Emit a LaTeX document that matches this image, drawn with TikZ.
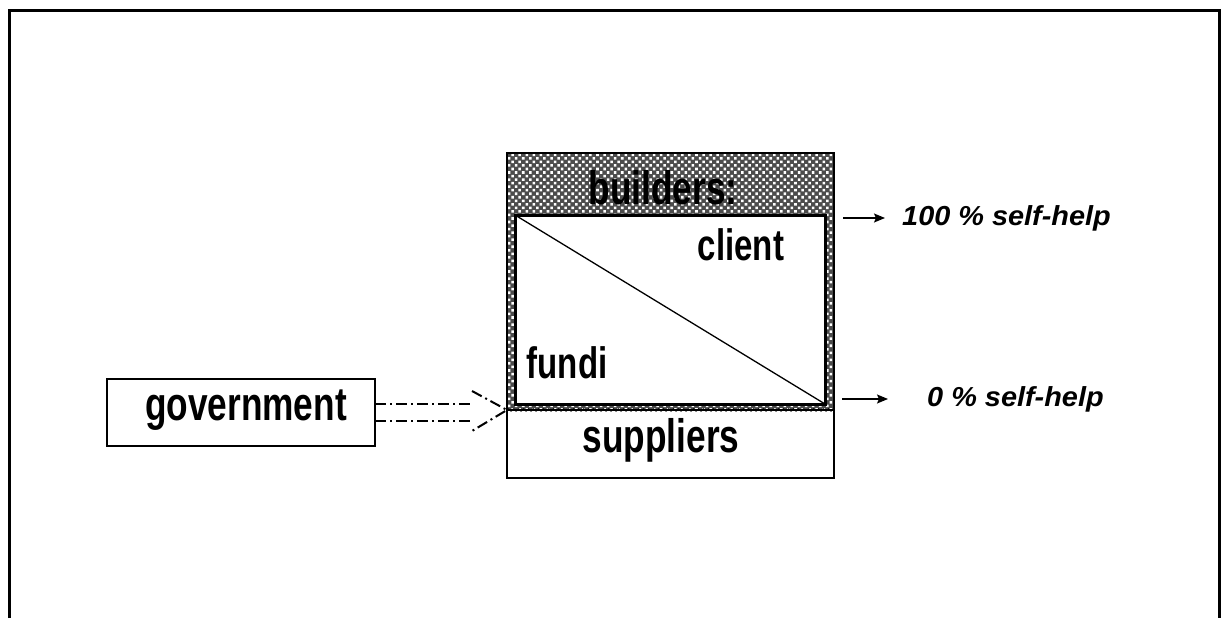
\documentclass[tikz,border=0pt]{standalone}
\usepackage{fontspec}
\setmainfont{Liberation Sans}
\newfontfamily\boxfont[FakeStretch=0.75]{Liberation Sans}
\newfontfamily\helpfont[FakeStretch=1.05]{Liberation Sans}
\usetikzlibrary{arrows,arrows.meta,shapes,positioning,patterns.meta,decorations.pathmorphing}

\begin{document}
\begin{tikzpicture}[x=1pt,y=1pt,
    boxnode/.style={draw, rectangle, inner sep=0pt, outer sep=0pt},
    boxtext/.style={font=\boxfont\bfseries\fontsize{47}{50}\selectfont, inner sep=0pt},
    helptext/.style={font=\helpfont\bfseries\itshape\fontsize{27.5}{29}\selectfont, inner sep=0pt},
    dashdot/.style={line width=2pt, dash pattern=on 11pt off 4pt on 2pt off 4pt},
    helparrow/.style={black, line width=1.4pt, -{Stealth[length=11pt,width=9pt,inset=2pt]}}]
                \useasboundingbox (0,0) rectangle (1222,-618);
                % frame
                \draw [black, line width=3pt] (9,-618) -- (9,-11) -- (1219,-11) -- (1219,-618);
                % builders
                \node [boxnode, line width=1.5pt, minimum width=327pt, minimum height=257pt,
                       preaction={fill=black!70}, pattern={Dots[distance=5pt,angle=45,radius=1.8pt]},
                       pattern color=white] (builders) at (670.5,-281.5) {};
                \node [boxtext] (builderslabel) at (663,-188) {builders:};
                \node [boxnode, fill=white, line width=3pt, minimum width=310pt, minimum height=189pt] (inner) at (670,-309.5) {};
                \draw [black, line width=1.3pt] (inner.north west) -- (inner.south east);
                \node [boxtext, font=\boxfont\bfseries\fontsize{44}{46}\selectfont] (client) at (741,-245) {client};
                \node [boxtext, font=\boxfont\bfseries\fontsize{44}{46}\selectfont] (fundi) at (567,-363) {fundi};
                % suppliers
                \node [boxnode, fill=white, line width=1.5pt, minimum width=327pt, minimum height=68pt] (suppliers) at (670.5,-444) {};
                \draw [black, line width=1.2pt, decorate, decoration={snake, amplitude=1pt, segment length=5pt}] (suppliers.north west) -- (suppliers.north east);
                \node [boxtext] (supplierslabel) at (661,-440) {suppliers};
                % government
                \node [boxnode, line width=1.5pt, minimum width=268pt, minimum height=67pt] (gov) at (241,-412.5) {};
                \node [boxtext] (govlabel) at (246,-410) {government};
                \draw [dashdot] ([yshift=8.5pt]gov.east) -- ++(98,0);
                \draw [dashdot] ([yshift=-8.5pt]gov.east) -- ++(98,0);
                \draw [dashdot] ([xshift=-35pt,yshift=19pt]suppliers.north west) -- (suppliers.north west) -- ([xshift=-35pt,yshift=-21pt]suppliers.north west);
                % self-help
                \node [helptext, anchor=west] (full) at (902,-218) {100 \% self-help};
                \node [helptext, anchor=west] (none) at (927,-399) {0 \% self-help};
                \draw [helparrow] ([xshift=-59pt]full.west) -- ([xshift=-17pt]full.west);
                \draw [helparrow] ([xshift=-85pt]none.west) -- ([xshift=-39pt]none.west);
\end{tikzpicture}
\end{document}
